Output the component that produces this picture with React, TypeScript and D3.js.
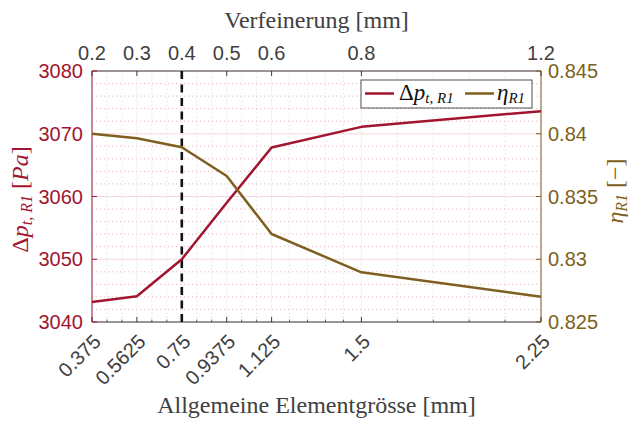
import React from 'react';
import * as d3 from 'd3';

// element size [mm] (bottom axis) and refinement [mm] (top axis)
const elementSize = [0.375, 0.5625, 0.75, 0.9375, 1.125, 1.5, 2.25];
const refinement = [0.2, 0.3, 0.4, 0.5, 0.6, 0.8, 1.2];
const pressureDrop = [3043.2, 3044.1, 3050.0, 3059.0, 3067.8, 3071.1, 3073.6];
const efficiency = [0.8400, 0.83964, 0.83892, 0.83663, 0.83201, 0.82896, 0.82702];
const leftTicks = [3040, 3050, 3060, 3070, 3080];
const rightTicks = [0.825, 0.83, 0.835, 0.84, 0.845];
const bottomTickLabels = ['0.375', '0.5625', '0.75', '0.9375', '1.125', '1.5', '2.25'];
const topTickLabels = ['0.2', '0.3', '0.4', '0.5', '0.6', '0.8', '1.2'];
const minorDivisions = [3, 3, 3, 3, 5, 5];
const markedSize = 0.75;

const W = 632;
const H = 423;
const margin = { top: 71, right: 91, bottom: 101, left: 92 };

const RED = '#A2142F';
const BROWN = '#7E5F20';
const GRAY = '#404040';
const SERIF = '"Liberation Serif", "DejaVu Serif", serif';
const SANS = '"Liberation Sans", Arial, sans-serif';

const App: React.FC = () => {
    const x0 = margin.left;
    const x1 = W - margin.right;
    const y0 = H - margin.bottom;
    const y1 = margin.top;

    const x = d3.scaleLinear().domain([0.375, 2.25]).range([x0, x1]);
    const xTop = d3.scaleLinear().domain([0.2, 1.2]).range([x0, x1]);
    const yL = d3.scaleLinear().domain([3040, 3080]).range([y0, y1]);
    const yR = d3.scaleLinear().domain([0.825, 0.845]).range([y0, y1]);

    // minor vertical grid: subdivide every major interval
    const minorX: number[] = [];
    elementSize.slice(0, -1).forEach((v, i) => {
        const next = elementSize[i + 1];
        const n = minorDivisions[i];
        for (let k = 1; k < n; k++) minorX.push(v + (k * (next - v)) / n);
    });
    // minor horizontal grid every 2 Pa
    const minorY = d3.range(3042, 3080, 2).filter(v => v % 10 !== 0);

    const redLine = d3.line<number>()
        .x((_, i) => x(elementSize[i]))
        .y(d => yL(d));
    const brownLine = d3.line<number>()
        .x((_, i) => x(elementSize[i]))
        .y(d => yR(d));

    return (
        <svg width={W} height={H} style={{ display: 'block' }}>
            <style>{`body{margin:0}`}</style>
            <rect x={0} y={0} width={W} height={H} fill="white" />

            {/* minor grid */}
            {minorX.map((v, i) => (
                <line key={'mx' + i} x1={x(v)} x2={x(v)} y1={y0} y2={y1}
                    stroke="#d6d6d6" strokeWidth={0.8} strokeDasharray="1.2,2.8" />
            ))}
            {minorY.map((v, i) => (
                <line key={'my' + i} x1={x0} x2={x1} y1={yL(v)} y2={yL(v)}
                    stroke="#dcaab3" strokeWidth={0.8} strokeDasharray="1.2,2.8" />
            ))}
            {/* major grid */}
            {elementSize.map((v, i) => (
                <line key={'gx' + i} x1={x(v)} x2={x(v)} y1={y0} y2={y1}
                    stroke="#ececec" strokeWidth={0.8} />
            ))}
            {leftTicks.map((v, i) => (
                <line key={'gy' + i} x1={x0} x2={x1} y1={yL(v)} y2={yL(v)}
                    stroke="#f3d6db" strokeWidth={0.9} />
            ))}

            {/* axes box */}
            <line x1={x0} x2={x1} y1={y1} y2={y1} stroke="#262626" strokeWidth={0.9} />
            <line x1={x0} x2={x1} y1={y0} y2={y0} stroke="#262626" strokeWidth={0.9} />
            <line x1={x0} x2={x0} y1={y0} y2={y1} stroke={RED} strokeWidth={1} />
            <line x1={x1} x2={x1} y1={y0} y2={y1} stroke={BROWN} strokeWidth={1} />

            {/* ticks */}
            {elementSize.map((v, i) => (
                <g key={'tx' + i}>
                    <line x1={x(v)} x2={x(v)} y1={y0} y2={y0 - 5} stroke="#262626" strokeWidth={0.9} />
                    <line x1={x(v)} x2={x(v)} y1={y1} y2={y1 + 5} stroke="#262626" strokeWidth={0.9} />
                </g>
            ))}
            {minorX.map((v, i) => (
                <line key={'mtx' + i} x1={x(v)} x2={x(v)} y1={y0} y2={y0 - 2.5} stroke="#262626" strokeWidth={0.7} />
            ))}
            {leftTicks.map((v, i) => (
                <line key={'tl' + i} x1={x0} x2={x0 + 5} y1={yL(v)} y2={yL(v)} stroke={RED} strokeWidth={1} />
            ))}
            {rightTicks.map((v, i) => (
                <line key={'tr' + i} x1={x1} x2={x1 - 5} y1={yR(v)} y2={yR(v)} stroke={BROWN} strokeWidth={1} />
            ))}

            {/* data */}
            <line x1={x(markedSize)} x2={x(markedSize)} y1={y0} y2={y1}
                stroke="#111" strokeWidth={2.6} strokeDasharray="8,5.5" />
            <path d={redLine(pressureDrop) || ''} fill="none" stroke={RED} strokeWidth={2.5} strokeLinejoin="round" />
            <path d={brownLine(efficiency) || ''} fill="none" stroke={BROWN} strokeWidth={2.5} strokeLinejoin="round" />

            {/* tick labels */}
            <g fontFamily={SANS} fontSize={20}>
                {leftTicks.map((v, i) => (
                    <text key={'ll' + i} x={x0 - 9} y={yL(v)} dy="0.36em" textAnchor="end" fill={RED}>{v}</text>
                ))}
                {rightTicks.map((v, i) => (
                    <text key={'rl' + i} x={x1 + 7} y={yR(v)} dy="0.36em" textAnchor="start" fill={BROWN}>{String(v)}</text>
                ))}
                {refinement.map((v, i) => (
                    <text key={'tl' + i} x={xTop(v)} y={y1 - 11} textAnchor="middle" fill={GRAY}>{topTickLabels[i]}</text>
                ))}
                {elementSize.map((v, i) => (
                    <text key={'bl' + i} transform={`translate(${x(v) + 10},${y0 + 21}) rotate(-45)`}
                        textAnchor="end" fill={GRAY}>{bottomTickLabels[i]}</text>
                ))}
            </g>

            {/* axis titles */}
            <g fontFamily={SERIF}>
                <text x={(x0 + x1) / 2} y={28} textAnchor="middle" fontSize={24} fill={GRAY}>Verfeinerung [mm]</text>
                <text x={(x0 + x1) / 2} y={413} textAnchor="middle" fontSize={24} fill={GRAY}>Allgemeine Elementgrösse [mm]</text>
                <text transform={`translate(28,${(y0 + y1) / 2 + 3}) rotate(-90)`} textAnchor="middle" fontSize={24} fill={RED}>
                    <tspan>Δ</tspan><tspan fontStyle="italic">p</tspan>
                    <tspan fontStyle="italic" fontSize={16} dy={4}>t, R1</tspan>
                    <tspan dy={-4}> [</tspan><tspan fontStyle="italic">Pa</tspan><tspan>]</tspan>
                </text>
                <text transform={`translate(623,191) rotate(-90)`} textAnchor="middle" fontSize={24} fill={BROWN}>
                    <tspan fontStyle="italic">η</tspan>
                    <tspan fontStyle="italic" fontSize={16} dy={4}>R1</tspan>
                    <tspan dy={-4}> [−]</tspan>
                </text>
            </g>

            {/* legend */}
            <g>
                <rect x={361} y={80} width={171} height={28} fill="white" stroke="#262626" strokeWidth={0.8} />
                <line x1={365} x2={394} y1={93.5} y2={93.5} stroke={RED} strokeWidth={2.5} />
                <text x={399} y={100} fontFamily={SERIF} fontSize={23} fill="#111">
                    <tspan>Δ</tspan><tspan fontStyle="italic">p</tspan>
                    <tspan fontStyle="italic" fontSize={15} dy={3}>t, R1</tspan>
                </text>
                <line x1={465} x2={494} y1={93.5} y2={93.5} stroke={BROWN} strokeWidth={2.5} />
                <text x={497} y={100} fontFamily={SERIF} fontSize={23} fill="#111">
                    <tspan fontStyle="italic">η</tspan>
                    <tspan fontStyle="italic" fontSize={15} dy={3}>R1</tspan>
                </text>
            </g>
        </svg>
    );
};

export default App;
